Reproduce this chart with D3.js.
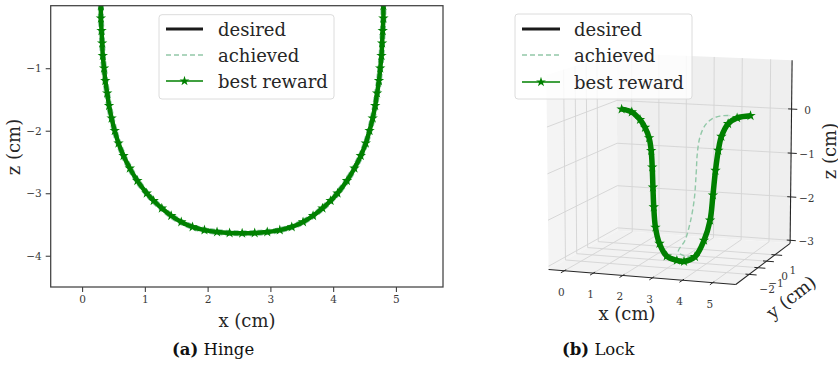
<!DOCTYPE html>
<html>
<head>
<meta charset="utf-8">
<script src="https://cdn.jsdelivr.net/npm/d3@7/dist/d3.min.js"></script>
<style>
  body { margin: 0; background: #fff; }
  svg { display: block; }
  text { font-family: "DejaVu Serif", serif; }
</style>
</head>
<body>
<div id="chart"></div>
<script>
// ---- (a) Hinge: x / z in cm ----
const hingeX = [0.30,0.30,0.31,0.32,0.33,0.35,0.37,0.40,0.43,0.47,0.52,0.58,0.66,0.76,0.88,1.03,1.14,1.27,1.42,1.58,
  1.76,1.95,2.15,2.35,2.55,2.75,2.95,3.15,3.34,3.52,3.68,3.83,3.96,4.07,4.22,4.34,4.44,4.52,4.58,4.63,
  4.67,4.70,4.73,4.75,4.77,4.78,4.79,4.80,4.80];
const hingeZ = [0,-0.20,-0.40,-0.60,-0.80,-1.00,-1.20,-1.40,-1.60,-1.80,-2.00,-2.20,-2.40,-2.60,-2.80,-3.00,-3.12,-3.24,-3.36,-3.46,
  -3.54,-3.59,-3.62,-3.635,-3.64,-3.635,-3.62,-3.59,-3.54,-3.46,-3.36,-3.24,-3.12,-3.00,-2.80,-2.60,-2.40,-2.20,-2.00,-1.80,
  -1.60,-1.40,-1.20,-1.00,-0.80,-0.60,-0.40,-0.20,0];
const hingeXTicks = [0, 1, 2, 3, 4, 5];
const hingeZTicks = [-4, -3, -2, -1];
const hingeXLim = [-0.5, 5.75];
const hingeZLim = [-4.5, 0];

// ---- (b) Lock: x / y / z in cm ----
const lockX = [0.33,0.71,1.04,1.26,1.46,1.60,1.72,1.85,1.98,2.14,2.36,2.67,3.04,3.29,3.64,3.87,3.98,3.96,3.93,3.93,3.97,4.14,4.42,4.87];
const lockY = [1.00,0.96,0.86,0.74,0.59,0.40,0.16,-0.14,-0.43,-0.72,-0.95,-1.12,-1.17,-1.18,-1.10,-0.86,-0.56,-0.20,0.16,0.46,0.67,0.86,0.96,1.00];
const lockZ = [0.00,-0.05,-0.20,-0.36,-0.57,-0.83,-1.17,-1.58,-1.98,-2.39,-2.71,-2.95,-3.02,-3.03,-2.92,-2.58,-2.17,-1.66,-1.16,-0.75,-0.46,-0.19,-0.06,0.00];
const lockAchX = [4.11,3.82,3.55,3.35,3.23,3.22,3.28,3.34,3.31,3.22,3.05,3.47,3.77,3.91,3.93,3.92,3.92,3.94,4.01,4.13,4.16];
const lockAchY = [0.99,0.97,0.92,0.82,0.64,0.40,0.10,-0.29,-0.63,-0.88,-1.05,-1.10,-0.96,-0.76,-0.42,-0.03,0.32,0.61,0.81,0.91,0.99];
const lockAchZ = [-0.02,-0.04,-0.11,-0.25,-0.50,-0.84,-1.25,-1.79,-2.26,-2.61,-2.85,-2.92,-2.72,-2.45,-1.97,-1.43,-0.95,-0.54,-0.27,-0.12,-0.02];
const lockXTicks = [0, 1, 2, 3, 4, 5];
const lockYTicks = [-2, -1, 0, 1];
const lockZTicks = [-3, -2, -1, 0];
const lockXLim = [-0.55, 5.75];
const lockYLim = [-3.45, 2.9];
const lockZLim = [-3.07, 1.1];

const seriesNames = ["desired", "achieved", "best reward"];
const captions = [["(a)", "Hinge"], ["(b)", "Lock"]];

const GREEN = "#008000", ACH = "#92c8a8", DES = "#1a1a1a";
const minus = t => String(t).replace("-", "\u2212");

const svg = d3.select("#chart").append("svg").attr("width", 838).attr("height", 370);
const star = d3.symbol().type(d3.symbolStar).size(34)();

// ================= (a) Hinge =================
const pa = {left: 50.7, right: 443, top: 5.7, bottom: 287};
const xA = d3.scaleLinear().domain(hingeXLim).range([pa.left, pa.right]);
const zA = d3.scaleLinear().domain(hingeZLim).range([pa.bottom, pa.top]);

svg.append("clipPath").attr("id", "clipA")
  .append("rect").attr("x", pa.left).attr("y", pa.top)
  .attr("width", pa.right - pa.left).attr("height", pa.bottom - pa.top);

const hinge = hingeX.map((x, i) => ({x: x, z: hingeZ[i]}));
const lineA = d3.line().x(d => xA(d.x)).y(d => zA(d.z)).curve(d3.curveCatmullRom);
const gA = svg.append("g").attr("clip-path", "url(#clipA)");

gA.append("path").attr("d", lineA(hinge)).attr("fill", "none")
  .attr("stroke", DES).attr("stroke-width", 2.5);
gA.append("path").attr("d", lineA(hinge)).attr("fill", "none")
  .attr("stroke", ACH).attr("stroke-width", 6).attr("stroke-dasharray", "5,3");
gA.append("path").attr("d", lineA(hinge)).attr("fill", "none")
  .attr("stroke", GREEN).attr("stroke-width", 4.5);
gA.selectAll(".starA").data(hinge).enter().append("path")
  .attr("class", "starA").attr("d", star).attr("fill", GREEN)
  .attr("transform", d => `translate(${xA(d.x)},${zA(d.z)})`);

// frame
svg.append("rect").attr("x", pa.left).attr("y", pa.top)
  .attr("width", pa.right - pa.left).attr("height", pa.bottom - pa.top)
  .attr("fill", "none").attr("stroke", "#404040").attr("stroke-width", 1.25);

// axes
const axA = svg.append("g").attr("transform", `translate(0,${pa.bottom})`)
  .call(d3.axisBottom(xA).tickValues(hingeXTicks).tickSize(5).tickPadding(4).tickFormat(minus));
const ayA = svg.append("g").attr("transform", `translate(${pa.left},0)`)
  .call(d3.axisLeft(zA).tickValues(hingeZTicks).tickSize(5).tickPadding(4).tickFormat(minus));
[axA, ayA].forEach(g => {
  g.select(".domain").remove();
  g.selectAll("line").attr("stroke", "#404040").attr("stroke-width", 1.1);
  g.selectAll("text").attr("font-family", "DejaVu Serif").attr("font-size", 10.5).attr("fill", "#3a3a3a");
});

svg.append("text").attr("x", 247).attr("y", 320).attr("text-anchor", "middle")
  .attr("dominant-baseline", "central").attr("font-size", 18).attr("fill", "#262626").text("x (cm)");
svg.append("text").attr("transform", "translate(13,147) rotate(-90)").attr("text-anchor", "middle")
  .attr("dominant-baseline", "central").attr("font-size", 18).attr("fill", "#262626").text("z (cm)");

// legend
function legend(x0, y0, w, h, hx0, hx1, tx, rows, alpha) {
  const g = svg.append("g");
  g.append("rect").attr("x", x0).attr("y", y0).attr("width", w).attr("height", h)
    .attr("rx", 3).attr("fill", "#fff").attr("fill-opacity", alpha)
    .attr("stroke", "#dcdcdc").attr("stroke-width", 1);
  seriesNames.forEach((name, i) => {
    const y = rows[i];
    const l = g.append("line").attr("x1", hx0).attr("x2", hx1).attr("y1", y).attr("y2", y);
    if (i === 0) l.attr("stroke", DES).attr("stroke-width", 3);
    if (i === 1) l.attr("stroke", ACH).attr("stroke-width", 1.5).attr("stroke-dasharray", "5,3");
    if (i === 2) {
      l.attr("stroke", GREEN).attr("stroke-width", 1.6);
      g.append("path").attr("d", d3.symbol().type(d3.symbolStar).size(30)())
        .attr("fill", GREEN).attr("transform", `translate(${(hx0 + hx1) / 2},${y})`);
    }
    g.append("text").attr("x", tx).attr("y", y).attr("dominant-baseline", "central")
      .attr("font-size", 18).attr("fill", "#262626").text(name);
  });
}
legend(159, 14.7, 175, 84.3, 166, 203, 218, [29, 55, 81], 1);

// ================= (b) Lock (3D) =================
const nx = d3.scaleLinear().domain(lockXLim).range([-0.5, 0.5]);
const ny = d3.scaleLinear().domain(lockYLim).range([-0.5, 0.5]);
const nz = d3.scaleLinear().domain(lockZLim).range([-0.5, 0.5]);
const cam = {az: -71 * Math.PI / 180, el: 10 * Math.PI / 180, dist: 10, f: 1915, cx: 673, cy: 162.5};
const E = [Math.cos(cam.el) * Math.cos(cam.az), Math.cos(cam.el) * Math.sin(cam.az), Math.sin(cam.el)];
const R = [-Math.sin(cam.az), Math.cos(cam.az), 0];
const U = [-Math.sin(cam.el) * Math.cos(cam.az), -Math.sin(cam.el) * Math.sin(cam.az), Math.cos(cam.el)];
const dot = (a, b) => a[0] * b[0] + a[1] * b[1] + a[2] * b[2];
function proj(x, y, z) {
  const p = [nx(x), ny(y), nz(z)];
  const d = cam.dist - dot(p, E);
  return [cam.cx + cam.f * dot(p, R) / d, cam.cy - cam.f * dot(p, U) / d];
}
const [x0, x1] = lockXLim, [y0, y1] = lockYLim, [z0, z1] = lockZLim;
const poly = pts => "M" + pts.map(p => proj(...p).join(",")).join("L") + "Z";
const gB = svg.append("g");

// panes
gB.append("path").attr("d", poly([[x0, y0, z0], [x0, y1, z0], [x0, y1, z1], [x0, y0, z1]])).attr("fill", "#f4f4f4");
gB.append("path").attr("d", poly([[x0, y1, z0], [x1, y1, z0], [x1, y1, z1], [x0, y1, z1]])).attr("fill", "#efefef");
gB.append("path").attr("d", poly([[x0, y0, z0], [x1, y0, z0], [x1, y1, z0], [x0, y1, z0]])).attr("fill", "#f2f2f2");

// grid
const seg = (a, b) => { const p = proj(...a), q = proj(...b); return `M${p}L${q}`; };
const grid = [];
lockXTicks.forEach(t => { grid.push(seg([t, y0, z0], [t, y1, z0])); grid.push(seg([t, y1, z0], [t, y1, z1])); });
lockYTicks.forEach(t => { grid.push(seg([x0, t, z0], [x1, t, z0])); grid.push(seg([x0, t, z0], [x0, t, z1])); });
lockZTicks.forEach(t => { grid.push(seg([x0, y1, t], [x1, y1, t])); grid.push(seg([x0, y0, t], [x0, y1, t])); });
gB.selectAll(".grid").data(grid).enter().append("path").attr("class", "grid")
  .attr("d", d => d).attr("stroke", "#d4d4d4").attr("stroke-width", 0.9).attr("fill", "none");

// axis lines
const axisPath = [seg([x0, y0, z0], [x1, y0, z0]), seg([x1, y0, z0], [x1, y1, z0]), seg([x1, y1, z0], [x1, y1, z1])];
gB.selectAll(".axl").data(axisPath).enter().append("path").attr("class", "axl")
  .attr("d", d => d).attr("stroke", "#262626").attr("stroke-width", 1.1);

// ticks + labels
const tickLab = (txt, p, dx, dy) => gB.append("text").attr("x", p[0] + dx).attr("y", p[1] + dy)
  .attr("text-anchor", "middle").attr("dominant-baseline", "central")
  .attr("font-size", 10.5).attr("fill", "#3a3a3a").text(minus(txt));
lockXTicks.forEach(t => {
  gB.append("path").attr("d", seg([t, y0 + 0.15, z0], [t, y0 - 0.3, z0])).attr("stroke", "#262626");
  tickLab(t, proj(t, y0, z0), -3, 21);
});
lockYTicks.forEach(t => {
  gB.append("path").attr("d", seg([x1 - 0.12, t, z0], [x1 + 0.25, t, z0])).attr("stroke", "#262626");
  tickLab(t, proj(x1, t, z0), 18, 15);
});
lockZTicks.forEach(t => {
  gB.append("path").attr("d", seg([x1 - 0.12, y1, t], [x1 + 0.2, y1, t])).attr("stroke", "#262626");
  tickLab(t, proj(x1, y1, t), 16, 1);
});

svg.append("text").attr("x", 627).attr("y", 313).attr("text-anchor", "middle")
  .attr("dominant-baseline", "central").attr("font-size", 18).attr("fill", "#262626").text("x (cm)");
svg.append("text").attr("transform", "translate(791,297) rotate(-38)").attr("text-anchor", "middle")
  .attr("dominant-baseline", "central").attr("font-size", 18).attr("fill", "#262626").text("y (cm)");
svg.append("text").attr("transform", "translate(829,151) rotate(-90)").attr("text-anchor", "middle")
  .attr("dominant-baseline", "central").attr("font-size", 18).attr("fill", "#262626").text("z (cm)");

// data
const lock = lockX.map((x, i) => proj(x, lockY[i], lockZ[i]));
const lockAch = lockAchX.map((x, i) => proj(x, lockAchY[i], lockAchZ[i]));
const lineB = d3.line().curve(d3.curveCatmullRom);
gB.append("path").attr("d", lineB(lock)).attr("fill", "none").attr("stroke", DES).attr("stroke-width", 2.5);
gB.append("path").attr("d", lineB(lockAch)).attr("fill", "none").attr("stroke", ACH)
  .attr("stroke-width", 1.4).attr("stroke-dasharray", "5,3");
gB.append("path").attr("d", lineB(lock)).attr("fill", "none").attr("stroke", GREEN).attr("stroke-width", 5.5);
gB.selectAll(".starB").data(lock).enter().append("path").attr("class", "starB")
  .attr("d", star).attr("fill", GREEN).attr("transform", d => `translate(${d[0]},${d[1]})`);

legend(515, 14, 177, 85, 522, 560, 574, [29, 55, 82], 0.8);

// ================= captions =================
[[172, 355], [562, 355]].forEach((pos, i) => {
  const t = svg.append("text").attr("x", pos[0]).attr("y", pos[1]).attr("font-size", 16.5).attr("fill", "#111");
  t.append("tspan").attr("font-weight", "bold").text(captions[i][0]);
  t.append("tspan").text(" " + captions[i][1]);
});
</script>
</body>
</html>
